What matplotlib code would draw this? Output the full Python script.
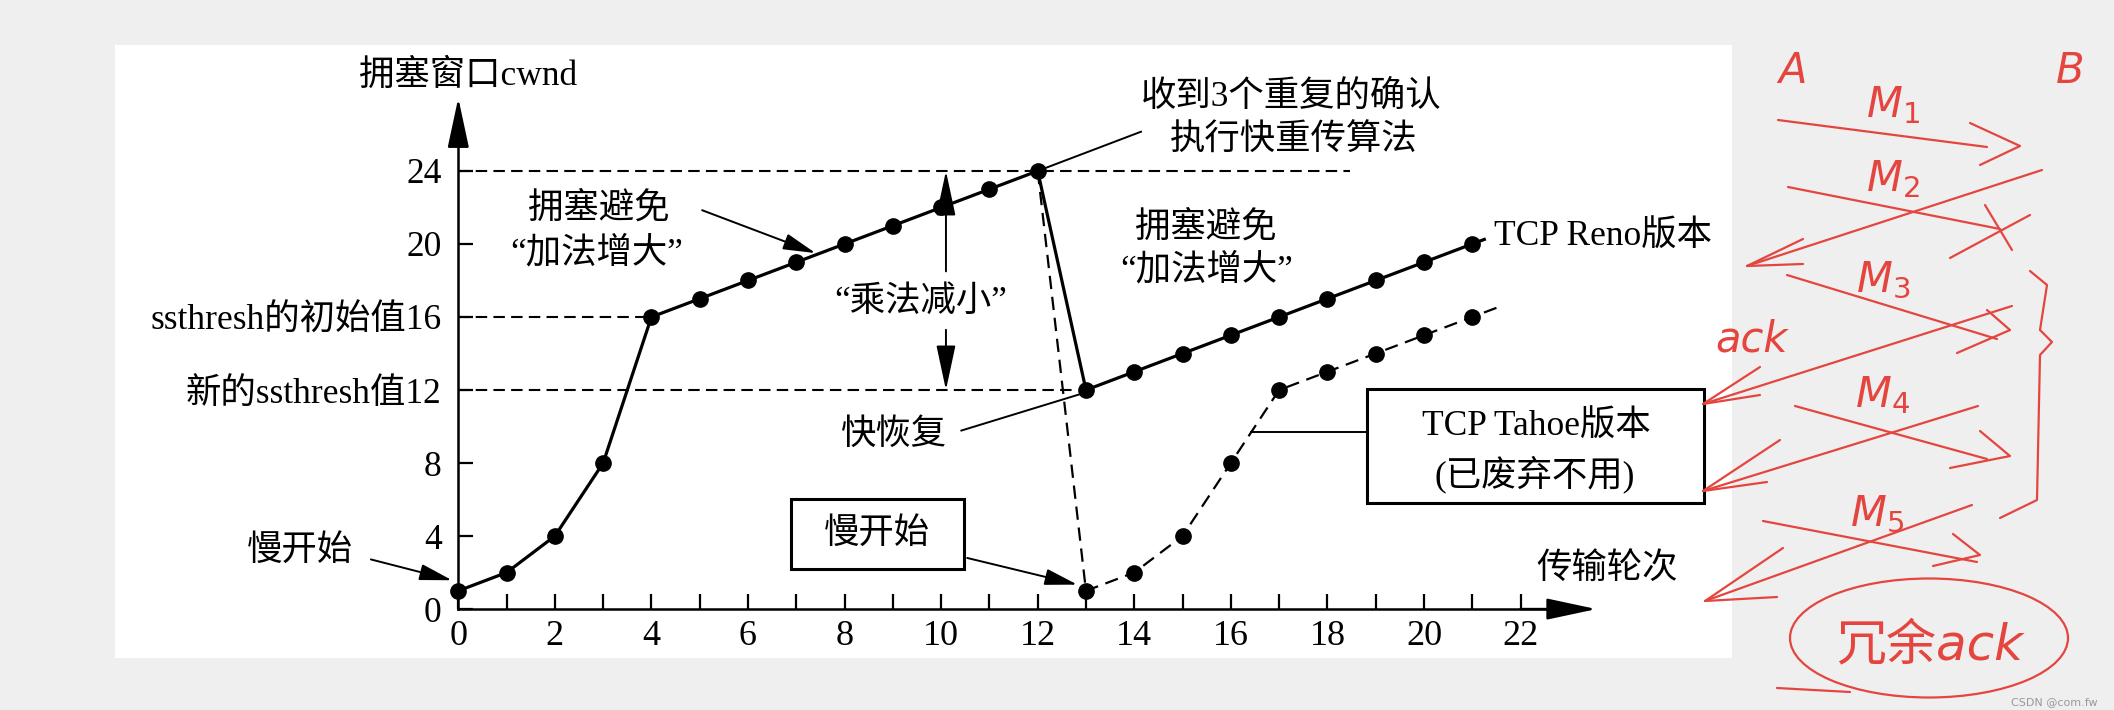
import matplotlib
matplotlib.use('Agg')
import matplotlib.pyplot as plt
from matplotlib.patches import Rectangle, Ellipse

plt.rcParams['font.family'] = ['Liberation Serif', 'Noto Sans CJK SC']

# ---------------- data ----------------
reno_rounds = [0, 1, 2, 3, 4, 5, 6, 7, 8, 9, 10, 11, 12, 13, 14, 15, 16, 17, 18, 19, 20, 21]
reno_cwnd = [1, 2, 4, 8, 16, 17, 18, 19, 20, 21, 22, 23, 24, 12, 13, 14, 15, 16, 17, 18, 19, 20]
tahoe_rounds = [12, 13, 14, 15, 16, 17, 18, 19, 20, 21]
tahoe_cwnd = [24, 1, 2, 4, 8, 12, 13, 14, 15, 16]
ssthresh_init = 16
ssthresh_new = 12
cwnd_peak = 24
x_tick_values = list(range(0, 23))
x_tick_labels = [str(v) if v % 2 == 0 else '' for v in x_tick_values]
y_tick_values = [0, 4, 8, 12, 16, 20, 24]
y_tick_labels = ['0', '4', '8', '新的ssthresh值12', 'ssthresh的初始值16', '20', '24']

W, H = 2114, 710
fig = plt.figure(figsize=(W / 100, H / 100), dpi=100, facecolor='#efefef')
ax = fig.add_axes([115 / W, 52 / H, 1617 / W, 613 / H])
ax.set_facecolor('white')
ax.set_xlim(-7.11, 26.38)
ax.set_ylim(-2.68, 30.9)

FS = 25.5
for s in ['top', 'right']:
    ax.spines[s].set_visible(False)
ax.spines['left'].set_position(('data', 0))
ax.spines['bottom'].set_position(('data', 0))
ax.spines['left'].set_bounds(0, 27.0)
ax.spines['bottom'].set_bounds(0, 22.8)
for s in ['left', 'bottom']:
    ax.spines[s].set_linewidth(1.8)
ax.annotate('', xy=(0, 28.0), xytext=(0, 26.0),
            arrowprops=dict(arrowstyle='-|>,head_length=1.4,head_width=0.3', lw=1.8,
                            color='k', mutation_scale=22, shrinkA=0, shrinkB=0))
ax.annotate('', xy=(23.57, 0), xytext=(22.0, 0),
            arrowprops=dict(arrowstyle='-|>,head_length=1.4,head_width=0.3', lw=1.8,
                            color='k', mutation_scale=22, shrinkA=0, shrinkB=0))

ax.set_xticks(x_tick_values)
ax.set_xticklabels(x_tick_labels)
ax.set_yticks(y_tick_values)
ax.set_yticklabels(y_tick_labels)
ax.tick_params(axis='x', direction='in', length=11, width=1.6, pad=8, labelsize=26)
ax.tick_params(axis='y', direction='in', length=11, width=1.6, pad=12, labelsize=FS)

# reference dashed lines
dash = (0, (5.5, 3))
ax.plot([0, 18.46], [cwnd_peak, cwnd_peak], color='k', lw=1.5, ls=dash)
ax.plot([0, reno_rounds[4]], [ssthresh_init, ssthresh_init], color='k', lw=1.5, ls=dash)
ax.plot([0, 12.82], [ssthresh_new, ssthresh_new], color='k', lw=1.5, ls=dash)

# Tahoe (dashed)
tx = tahoe_rounds + [tahoe_rounds[-1] + 0.6]
ty = tahoe_cwnd + [tahoe_cwnd[-1] + 0.6]
ax.plot(tx, ty, color='k', lw=1.6, ls=(0, (6, 3.5)), zorder=3)
ax.plot(tahoe_rounds[1:], tahoe_cwnd[1:], 'o', color='k', ms=11, zorder=4)

# Reno (solid)
rx = reno_rounds + [reno_rounds[-1] + 0.25]
ry = reno_cwnd + [reno_cwnd[-1] + 0.25]
ax.plot(rx, ry, color='k', lw=2.3, zorder=3)
ax.plot(reno_rounds, reno_cwnd, 'o', color='k', ms=11, zorder=4)

# multiplicative decrease double arrow
ap = dict(arrowstyle='-|>,head_length=1.4,head_width=0.3', lw=1.4, color='k',
          mutation_scale=20, shrinkA=0, shrinkB=0)
ax.annotate('', xy=(10.1, cwnd_peak), xytext=(10.1, 18.5), arrowprops=ap)
ax.annotate('', xy=(10.1, ssthresh_new), xytext=(10.1, 15.3), arrowprops=ap)
ax.text(9.57, 16.8, '“乘法减小”', fontsize=FS, ha='center', va='center')

# axis titles
ax.text(0.2, 29.2, '拥塞窗口cwnd', fontsize=FS, ha='center', va='center')
ax.text(23.8, 2.17, '传输轮次', fontsize=FS, ha='center', va='center')

# annotations
ax.text(2.9, 21.9, '拥塞避免', fontsize=FS, ha='center', va='center')
ax.text(2.87, 19.46, '“加法增大”', fontsize=FS, ha='center', va='center')
ax.annotate('', xy=(7.4, 19.5), xytext=(5.05, 21.85),
            arrowprops=dict(arrowstyle='-|>,head_length=1.0,head_width=0.25', lw=1.4,
                            color='k', mutation_scale=20, shrinkA=0, shrinkB=0))

ax.text(17.25, 28.07, '收到3个重复的确认', fontsize=FS, ha='center', va='center')
ax.text(17.3, 25.65, '执行快重传算法', fontsize=FS, ha='center', va='center')
ax.plot([12, 14.14], [24, 26.15], color='k', lw=1.4)

ax.text(15.49, 20.9, '拥塞避免', fontsize=FS, ha='center', va='center')
ax.text(15.5, 18.57, '“加法增大”', fontsize=FS, ha='center', va='center')
ax.text(21.46, 20.36, 'TCP Reno版本', fontsize=FS, ha='left', va='center')

ax.text(9.0, 9.5, '快恢复', fontsize=FS, ha='center', va='center')
ax.plot([10.42, 12.85], [9.78, 11.75], color='k', lw=1.4)

ax.text(-3.29, 3.17, '慢开始', fontsize=FS, ha='center', va='center')
ax.annotate('', xy=(-0.13, 1.58), xytext=(-1.81, 2.72),
            arrowprops=dict(arrowstyle='-|>,head_length=1.0,head_width=0.25', lw=1.4,
                            color='k', mutation_scale=20, shrinkA=0, shrinkB=0))

ax.add_patch(Rectangle((6.9, 2.17), 3.58, 3.85, fill=False, lw=2.2, ec='k', zorder=5))
ax.text(8.68, 4.09, '慢开始', fontsize=FS, ha='center', va='center')
ax.annotate('', xy=(12.82, 1.34), xytext=(10.54, 2.8),
            arrowprops=dict(arrowstyle='-|>,head_length=1.0,head_width=0.25', lw=1.4,
                            color='k', mutation_scale=20, shrinkA=0, shrinkB=0))

ax.add_patch(Rectangle((18.82, 5.8), 6.97, 6.24, fill=False, lw=2.2, ec='k', zorder=5))
ax.text(22.33, 9.96, 'TCP Tahoe版本', fontsize=FS, ha='center', va='center')
ax.text(22.3, 7.39, '(已废弃不用)', fontsize=FS, ha='center', va='center')
ax.plot([16.42, 18.82], [9.69, 9.69], color='k', lw=1.4)

# ---------------- handwritten red notes (overlay in pixel coords) ----------------
ov = fig.add_axes([0, 0, 1, 1], zorder=10)
ov.set_xlim(0, W)
ov.set_ylim(H, 0)
ov.axis('off')
ov.patch.set_alpha(0)
RED = '#e4463f'
hand = dict(color=RED, fontsize=30, fontstyle='italic', ha='center', va='center',
            family=['DejaVu Sans', 'Noto Sans CJK SC'])

ov.text(1792, 71, 'A', **hand)
ov.text(2070, 71, 'B', **hand)
ov.text(1893, 105, r'M$_1$', **hand)
ov.text(1893, 179, r'M$_2$', **hand)
ov.text(1883, 280, r'M$_3$', **hand)
ov.text(1752, 339, 'ack', **hand)
ov.text(1883, 395, r'M$_4$', **hand)
ov.text(1877, 514, r'M$_5$', **hand)
ov.text(1930, 645, '冗余ack', **{**hand, 'fontsize': 36})

strokes = [
    [(1778, 120), (1987, 147)], [(1970, 123), (2020, 146), (1980, 165)],
    [(1788, 187), (2000, 229)], [(1985, 205), (2012, 250)], [(1950, 258), (2030, 215)],
    [(2042, 170), (1747, 266)], [(1803, 239), (1747, 266), (1803, 264)],
    [(1787, 275), (1997, 339)], [(1987, 310), (2010, 330), (1957, 353)],
    [(2012, 306), (1703, 404)], [(1760, 367), (1703, 404), (1760, 395)],
    [(1795, 406), (1987, 459)], [(1980, 431), (2010, 456), (1950, 468)],
    [(1978, 406), (1703, 491)], [(1780, 440), (1703, 491), (1767, 482)],
    [(1763, 521), (1977, 562)], [(1953, 534), (1980, 555), (1933, 566)],
    [(1972, 505), (1705, 601)], [(1783, 548), (1705, 601), (1777, 597)],
    [(2030, 271), (2047, 285), (2040, 330), (2052, 342), (2040, 355), (2037, 500), (2000, 518)],
    [(1777, 688), (1850, 692)],
]
for st in strokes:
    xs, ys = zip(*st)
    ov.plot(xs, ys, color=RED, lw=1.6, solid_capstyle='round')
ov.add_patch(Ellipse((1929, 638), 278, 119, fill=False, ec=RED, lw=1.6))

ov.text(2098, 702, 'CSDN @com.fw', color='#999999', fontsize=8, ha='right', va='center',
        family=['DejaVu Sans'])

fig.savefig('out.png', dpi=100, facecolor=fig.get_facecolor())
